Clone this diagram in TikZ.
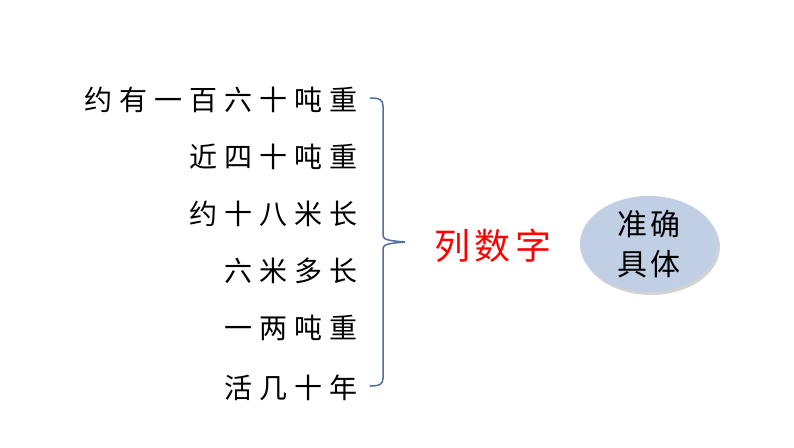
\documentclass[tikz,border=0pt]{standalone}
\usepackage{fontspec}
\newfontfamily\cjk{Noto Sans CJK SC}
\newfontfamily\cjkw[LetterSpace=25]{Noto Sans CJK SC}
\newfontfamily\cjkr[LetterSpace=12]{Noto Sans CJK SC}
\usetikzlibrary{shadows,shapes.geometric}
\definecolor{bracec}{RGB}{80,110,165}
\definecolor{ellc}{RGB}{192,207,228}
\tikzset{item/.style={anchor=east,font=\cjkw\fontsize{28}{30}\selectfont,inner sep=0pt}}
\begin{document}
\begin{tikzpicture}[x=1pt,y=-1pt]
\useasboundingbox (0,0) rectangle (794,447);
\node[item] (t1) at (358,100) {约有一百六十吨重};
\node[item] (t2) at (358,157) {近四十吨重};
\node[item] (t3) at (358,214) {约十八米长};
\node[item] (t4) at (358,271) {六米多长};
\node[item] (t5) at (358,328) {一两吨重};
\node[item] (t6) at (358,388) {活几十年};
\coordinate (tip) at (405,242);
\draw[bracec,line width=1.5pt] (370,98) .. controls (380,98) and (383,100) .. (383,106) -- (383,236) .. controls (383,240) and (392,241) .. (tip) .. controls (392,243) and (383,244) .. (383,248) -- (383,378) .. controls (383,384) and (380,386) .. (370,386);
\node[text=red,font=\cjkr\fontsize{36}{38}\selectfont,inner sep=0pt] (lsz) at (493,246) {列数字};
\node[ellipse,fill=ellc,minimum width=138pt,minimum height=96pt,drop shadow={opacity=0.35,shadow xshift=2pt,shadow yshift=-3pt},align=center,font=\cjkr\fontsize{30}{40}\selectfont,inner sep=0pt] (e) at (649,244) {准确\\具体};
\end{tikzpicture}
\end{document}
